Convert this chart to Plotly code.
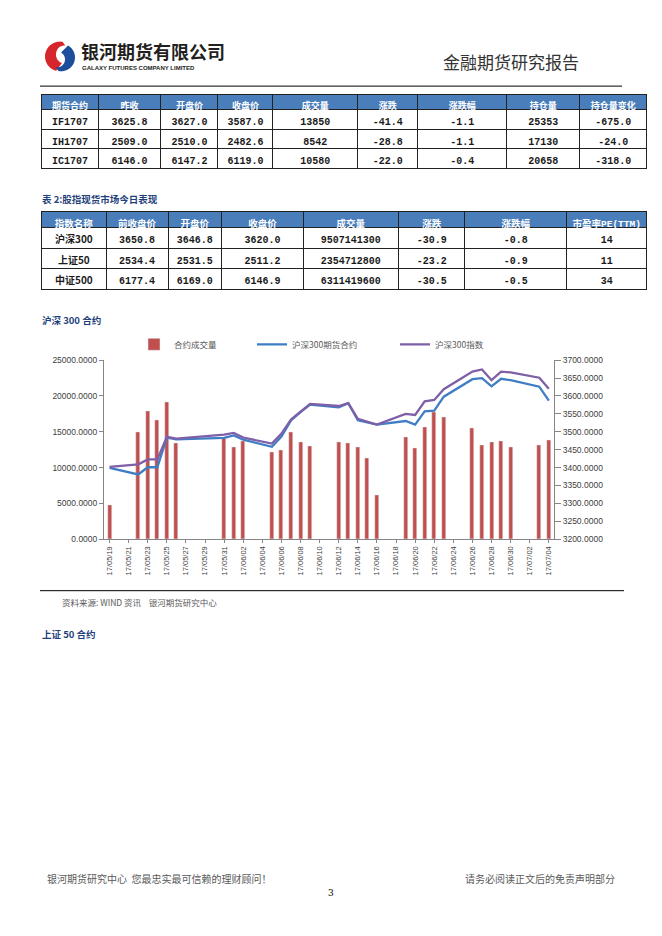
import numpy as np
import plotly.graph_objects as go

W, H = 662, 936

def fx(x):
    return x / W

def fy(y):
    return 1 - y / H

# ---------------- data ----------------
t1_header = ["期货合约", "昨收", "开盘价", "收盘价", "成交量", "涨跌", "涨跌幅", "持仓量", "持仓量变化"]
t1_contract = ["IF1707", "IH1707", "IC1707"]
t1_prev = [3625.8, 2509.0, 6146.0]
t1_open = [3627.0, 2510.0, 6147.2]
t1_close = [3587.0, 2482.6, 6119.0]
t1_volume = [13850, 8542, 10580]
t1_change = [-41.4, -28.8, -22.0]
t1_pct = [-1.1, -1.1, -0.4]
t1_oi = [25353, 17130, 20658]
t1_oi_change = [-675.0, -24.0, -318.0]

t2_header = ["指数名称", "前收盘价", "开盘价", "收盘价", "成交量", "涨跌", "涨跌幅", "市盈率PE(TTM)"]
t2_name = ["沪深300", "上证50", "中证500"]
t2_prev = [3650.8, 2534.4, 6177.4]
t2_open = [3646.8, 2531.5, 6169.0]
t2_close = [3620.0, 2511.2, 6146.9]
t2_volume = [9507141300, 2354712800, 6311419600]
t2_change = [-30.9, -23.2, -30.5]
t2_pct = [-0.8, -0.9, -0.5]
t2_pe = [14, 11, 34]

dates = ["2017-05-19", "2017-05-22", "2017-05-23", "2017-05-24", "2017-05-25", "2017-05-26",
         "2017-05-31", "2017-06-01", "2017-06-02", "2017-06-05", "2017-06-06", "2017-06-07",
         "2017-06-08", "2017-06-09", "2017-06-12", "2017-06-13", "2017-06-14", "2017-06-15",
         "2017-06-16", "2017-06-19", "2017-06-20", "2017-06-21", "2017-06-22", "2017-06-23",
         "2017-06-26", "2017-06-27", "2017-06-28", "2017-06-29", "2017-06-30", "2017-07-03",
         "2017-07-04"]
volume = [4800, 14900, 17900, 16600, 19100, 13400,
          14100, 12800, 13700, 12100, 12500, 15000,
          13600, 13000, 13500, 13400, 12800, 11300,
          6100, 14200, 12700, 15700, 17800, 17100,
          15500, 13200, 13600, 13700, 12800, 13200,
          13850]
futures = [3399, 3381, 3401, 3401, 3484, 3479,
           3483, 3490, 3478, 3458, 3487, 3532,
           3555, 3576, 3568, 3580, 3532, 3525,
           3520, 3530, 3520, 3557, 3559, 3598,
           3647, 3650, 3627, 3648, 3644, 3626,
           3587]
index300 = [3402, 3409, 3423, 3423, 3486, 3481,
            3492, 3497, 3484, 3467, 3495, 3534,
            3556, 3578, 3572, 3580, 3536, 3527,
            3520, 3550, 3547, 3585, 3589, 3619,
            3668, 3674, 3644, 3668, 3666, 3651,
            3620]

# ---------------- styles ----------------
HEAD_BLUE = "#4A7EBB"
TXT_DARK = "#1a1a1a"
CN = "Noto Sans CJK SC"
MONO = "Liberation Mono, Noto Sans CJK SC"
NAVY = "#1F3F7A"

fig = go.Figure()

def f1(v):
    return [f"{x:.1f}" for x in v]

def f0(v):
    return [f"{x:d}" for x in v]

# ---------------- table 1 ----------------
t1_widths = [56.6, 62.7, 57, 55, 85, 60, 89, 73, 67]
fig.add_trace(go.Table(
    domain=dict(x=[fx(41.7), fx(647)], y=[fy(175), fy(90)]),
    columnwidth=t1_widths,
    header=dict(values=t1_header, fill_color=HEAD_BLUE, height=15.5,
                line=dict(color="#222222", width=1), align="center",
                font=dict(family=CN, size=9, color="white", weight="bold")),
    cells=dict(values=[t1_contract, f1(t1_prev), f1(t1_open), f1(t1_close), f0(t1_volume),
                       f1(t1_change), f1(t1_pct), f0(t1_oi), f1(t1_oi_change)],
               fill_color="white", height=19.5,
               line=dict(color="#222222", width=1), align="center",
               font=dict(family=MONO, size=10, color=TXT_DARK, weight="bold")),
))

# ---------------- table 2 ----------------
t2_widths = [64.3, 62, 53.7, 81.6, 95, 66.7, 101.7, 80]
fig.add_trace(go.Table(
    domain=dict(x=[fx(41.7), fx(646.7)], y=[fy(298), fy(209)]),
    columnwidth=t2_widths,
    header=dict(values=t2_header, fill_color=HEAD_BLUE, height=16,
                line=dict(color="#222222", width=1), align="center",
                font=dict(family=[CN] * 7 + [MONO], size=9.5, color="white", weight="bold")),
    cells=dict(values=[t2_name, f1(t2_prev), f1(t2_open), f1(t2_close), f0(t2_volume),
                       f1(t2_change), f1(t2_pct), f0(t2_pe)],
               fill_color="white", height=20.5,
               line=dict(color="#222222", width=1), align="center",
               font=dict(family=[CN] + [MONO] * 7, size=10, color=TXT_DARK, weight="bold")),
))

# ---------------- chart ----------------
fig.add_trace(go.Bar(x=dates, y=volume, name="合约成交量", marker_color="#C0504D",
                     width=36000000, xaxis="x", yaxis="y", legend="legend"))
fig.add_trace(go.Scatter(x=dates, y=futures, name="沪深300期货合约", mode="lines",
                         line=dict(color="#3F7DC4", width=2.3), xaxis="x", yaxis="y2",
                         legend="legend2"))
fig.add_trace(go.Scatter(x=dates, y=index300, name="沪深300指数", mode="lines",
                         line=dict(color="#7E5FA8", width=2.3), xaxis="x", yaxis="y2",
                         legend="legend3"))

axis_font = dict(family="Liberation Sans, Arial", size=8.5, color="#404040")
leg_font = dict(family=CN, size=8.5, color="#595959")

fig.update_layout(
    width=W, height=H,
    margin=dict(l=0, r=0, t=0, b=0),
    paper_bgcolor="white", plot_bgcolor="white",
    showlegend=True,
    bargap=0,
    xaxis=dict(domain=[fx(104), fx(554)], type="date",
               range=["2017-05-18 10:00", "2017-07-04 13:00"],
               tick0="2017-05-19", dtick=2 * 86400000, tickformat="%y/%m/%d",
               tickangle=-90, tickfont=dict(family="Liberation Sans, Arial", size=7.5, color="#404040"),
               showline=True, linecolor="#868686", linewidth=1,
               ticks="outside", ticklen=3, tickcolor="#868686",
               showgrid=False, zeroline=False, anchor="y"),
    yaxis=dict(domain=[fy(540), fy(359)], range=[0, 25000], dtick=5000,
               tickformat=".4f", tickfont=axis_font,
               showline=True, linecolor="#868686", linewidth=1,
               ticks="outside", ticklen=4, tickcolor="#868686",
               showgrid=False, zeroline=False, anchor="x"),
    yaxis2=dict(domain=[fy(540), fy(359)], range=[3200, 3700], dtick=50,
                tickformat=".4f", tickfont=axis_font, overlaying="y", side="right",
                showline=True, linecolor="#868686", linewidth=1,
                ticks="outside", ticklen=6, tickcolor="#868686",
                showgrid=False, zeroline=False, anchor="x"),
    legend=dict(x=fx(134), y=fy(343), xanchor="left", yanchor="middle",
                orientation="h", font=leg_font, bgcolor="rgba(0,0,0,0)"),
    legend2=dict(x=fx(252), y=fy(343), xanchor="left", yanchor="middle",
                 orientation="h", font=leg_font, bgcolor="rgba(0,0,0,0)"),
    legend3=dict(x=fx(395), y=fy(343), xanchor="left", yanchor="middle",
                 orientation="h", font=leg_font, bgcolor="rgba(0,0,0,0)"),
)

# ---------------- page decorations ----------------
shapes = []
annotations = []

def line_px(x0, y0, x1, y1, color="#000000", width=1):
    shapes.append(dict(type="line", xref="paper", yref="paper",
                       x0=fx(x0), y0=fy(y0), x1=fx(x1), y1=fy(y1),
                       line=dict(color=color, width=width)))

def text_px(x, y, s, size, color, family=CN, xanchor="left", weight="normal"):
    annotations.append(dict(x=fx(x), y=fy(y), xref="paper", yref="paper", text=s,
                            showarrow=False, xanchor=xanchor, yanchor="middle",
                            font=dict(family=family, size=size, color=color, weight=weight)))

def poly_path(points):
    pts = [(fx(a), fy(b)) for a, b in points]
    return "M " + " L ".join(f"{a:.5f},{b:.5f}" for a, b in pts) + " Z"

# logo icon
cx, cy = 60, 52
th = np.radians(np.linspace(80, 255, 40))
outer = [(cx + 15 * np.cos(t), cy - 15 * np.sin(t)) for t in th]
th2 = np.radians(np.linspace(255, 80, 40))
inner = [(cx + 4 + 8 * np.cos(t), cy - 2 - 9 * np.sin(t)) for t in th2]
shapes.append(dict(type="path", xref="paper", yref="paper", path=poly_path(outer + inner),
                   fillcolor="#D7262B", line=dict(width=0)))
th = np.radians(np.linspace(-100, 60, 40))
outer_b = [(cx + 1 + 14 * np.cos(t), cy + 1 - 14 * np.sin(t)) for t in th]
th2 = np.radians(np.linspace(60, -100, 40))
inner_b = [(cx - 3 + 8 * np.cos(t), cy + 3 - 8 * np.sin(t)) for t in th2]
shapes.append(dict(type="path", xref="paper", yref="paper", path=poly_path(outer_b + inner_b),
                   fillcolor="#1C4E9C", line=dict(width=0)))

text_px(79, 47, "银河期货有限公司", 18, "#231F20", weight="bold")
text_px(80, 64, "GALAXY FUTURES COMPANY LIMITED", 6, "#231F20", family="Liberation Sans, Arial", weight="bold")
text_px(581, 57, "金融期货研究报告", 17, "#333333", xanchor="right")
line_px(40, 82, 622, 82, "#000000", 1)

text_px(40, 196, "表 2:股指现货市场今日表现", 9.5, NAVY, weight="bold")
text_px(40, 318, "沪深 300 合约", 9.5, NAVY, weight="bold")

line_px(40, 592, 624, 592, "#000000", 1)
text_px(60, 603, "资料来源: WIND 资讯    银河期货研究中心", 8.5, "#595959")
text_px(40, 636, "上证 50 合约", 9.5, NAVY, weight="bold")

text_px(45, 883, "银河期货研究中心  您最忠实最可信赖的理财顾问！", 10, "#595959")
text_px(617, 883, "请务必阅读正文后的免责声明部分", 10, "#595959", xanchor="right")
text_px(331, 898, "3", 9, "#000000", family="DejaVu Serif", xanchor="center")

fig.update_layout(shapes=shapes, annotations=annotations)

fig.write_html("out.html",
               config={"displayModeBar": False},
               post_script="document.body.style.margin='0px';document.body.style.overflow='hidden';")
